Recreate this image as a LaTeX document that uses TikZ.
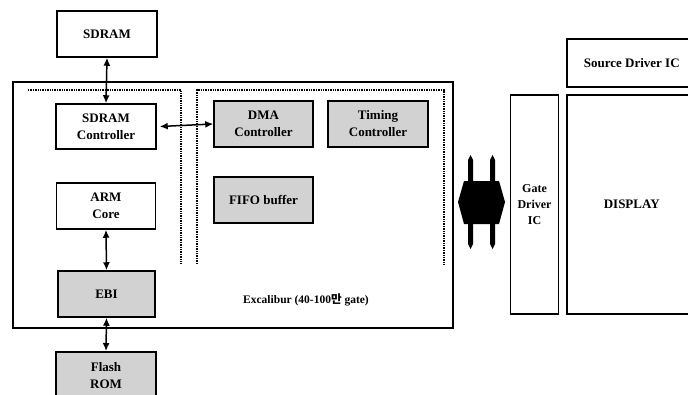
\documentclass[tikz,border=0pt]{standalone}
\usepackage{fontspec}
\setmainfont{Liberation Serif}
\newfontfamily\kr{Noto Sans CJK KR}
\usetikzlibrary{arrows.meta}
\begin{document}
\begin{tikzpicture}[x=1pt,y=-1pt,
  box/.style={draw, line width=1.5pt, align=center, inner sep=0pt,
    font=\fontsize{13}{17}\selectfont\bfseries},
  shadedbox/.style={box, fill=gray!35},
  conn/.style={line width=1.5pt, {Latex[length=8pt,width=7pt]}-{Latex[length=8pt,width=7pt]}},
  region/.style={line width=1.4pt, densely dotted},
  plainbox/.style={draw, line width=1.5pt}]
\useasboundingbox (0,0) rectangle (688,394);
\clip (0,0) rectangle (688,394);

% outer Excalibur box
\draw[plainbox] (13,82) rectangle (453,328);
% dotted regions
\draw[region] (28,90) -- (181,90) -- (181,264);
\draw[region] (197,264) -- (197,90) -- (444,90) -- (444,265);

\node[box, minimum width=100pt, minimum height=46pt] (sdram) at (107,34) {SDRAM};
\node[box, minimum width=100pt, minimum height=45pt] (sdc) at (106,126.5) {SDRAM\\Controller};
\node[shadedbox, minimum width=99pt, minimum height=46pt] (dma) at (263.5,124) {DMA\\Controller};
\node[shadedbox, minimum width=100pt, minimum height=46pt] (tim) at (378,124) {Timing\\Controller};
\node[shadedbox, minimum width=99pt, minimum height=46pt] (fifo) at (263.5,200) {FIFO buffer};
\node[box, minimum width=99pt, minimum height=46pt] (arm) at (106,206) {ARM\\Core};
\node[shadedbox, minimum width=97pt, minimum height=46pt] (ebi) at (106.5,294) {EBI};
\node[shadedbox, minimum width=100pt, minimum height=48pt, anchor=north] (flash) at (106,351) {Flash\\ROM};

\node[font=\fontsize{11.5}{13}\selectfont\bfseries] (exc) at (306,300) {Excalibur (40-100{\kr 만} gate)};

\node[box, minimum width=48pt, minimum height=219pt, font=\fontsize{12}{16}\selectfont\bfseries] (gate) at (534.5,204.5) {Gate\\Driver\\IC};
\node[box, minimum width=130pt, minimum height=219pt, anchor=west] (disp) at (566,204.5) {DISPLAY};
\node[box, minimum width=130pt, minimum height=48pt, anchor=west] (src) at (566,63) {Source Driver IC};

\draw[conn] (sdram.south) -- (sdc.north);
\draw[conn] ([xshift=3pt]sdc.east) -- (dma.west);
\draw[conn] (arm.south) -- (ebi.north);
\draw[conn] (ebi.south) -- (flash.north);

% big double block arrow
\fill[black] (458,202) -- (464,181) -- (468,181) -- (468,160) -- (470.5,155) -- (473,160) -- (473,181)
  -- (490,181) -- (490,160) -- (492.5,155) -- (495,160) -- (495,181) -- (499,181) -- (505,202)
  -- (499,224) -- (495,224) -- (495,244) -- (492.5,249) -- (490,244) -- (490,224)
  -- (473,224) -- (473,244) -- (470.5,249) -- (468,244) -- (468,224) -- (464,224) -- cycle;
\end{tikzpicture}
\end{document}
